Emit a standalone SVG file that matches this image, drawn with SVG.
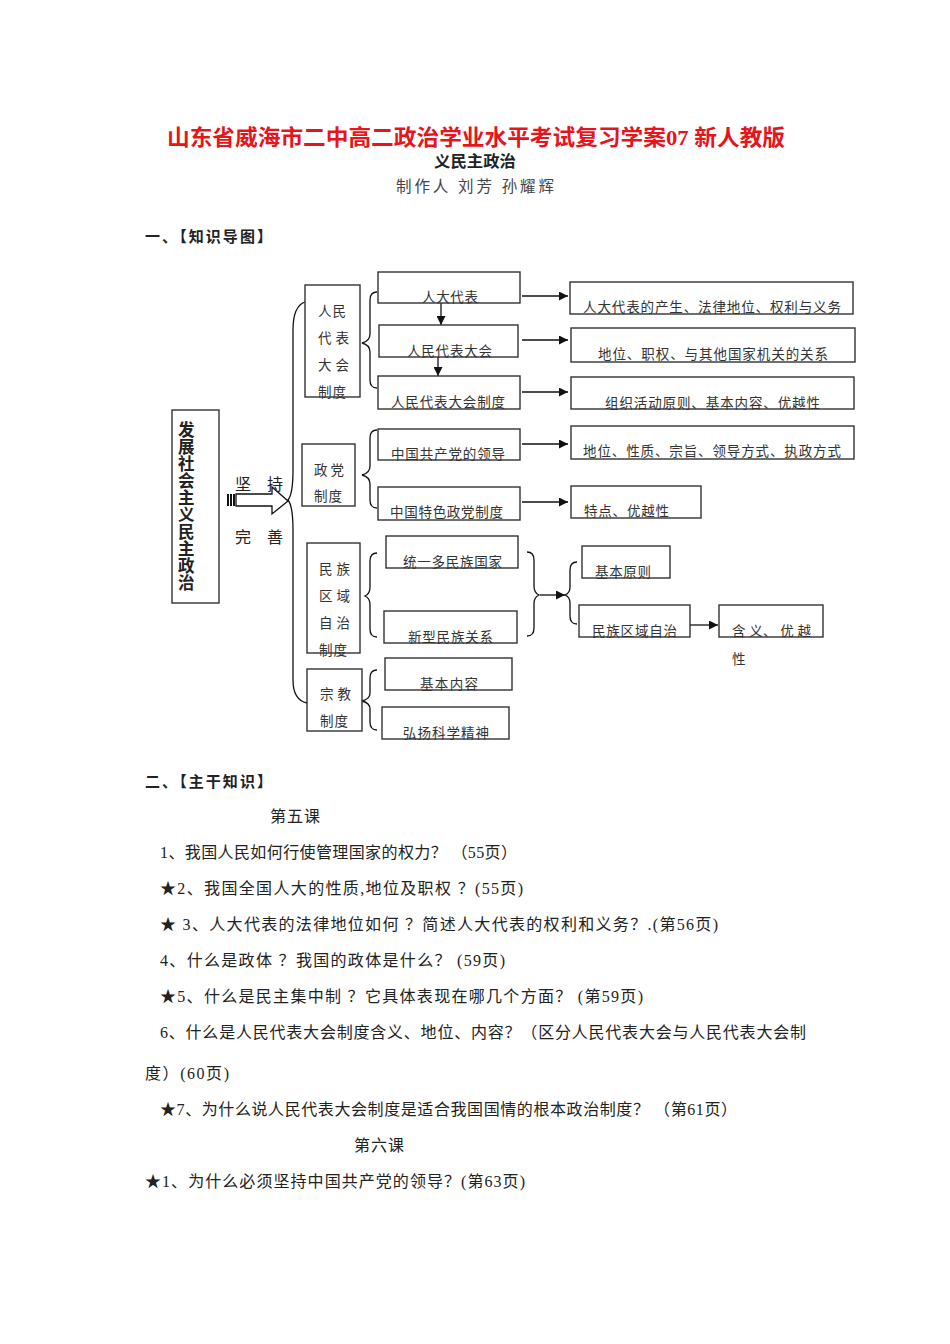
<svg xmlns="http://www.w3.org/2000/svg" width="950" height="1344" viewBox="0 0 950 1344">
<defs>
<style>
.t{font-family:"Liberation Serif","Noto Sans CJK SC",serif;fill:#222}
.b{font-weight:bold}
.box{fill:#fff;stroke:#333;stroke-width:1.4}
.lbl{font-size:13.5px;fill:#333}
.q{font-size:16px}
.con{fill:none;stroke:#111;stroke-width:1.3}
</style>
<marker id="ah" viewBox="0 0 10 10" refX="10" refY="5" markerWidth="9" markerHeight="9" markerUnits="userSpaceOnUse" orient="auto">
<path d="M0,0 L10,5 L0,10 z" fill="#111"/>
</marker>
</defs>
<rect width="950" height="1344" fill="#fff"/>

<g id="header">
<text class="t b" x="167" y="145" font-size="22" fill="#e8141b" style="fill:#e8141b" textLength="618" lengthAdjust="spacingAndGlyphs">山东省威海市二中高二政治学业水平考试复习学案07 新人教版</text>
<text class="t b" x="434" y="167" font-size="15.5" textLength="82" lengthAdjust="spacingAndGlyphs">义民主政治</text>
<text class="t" x="396" y="192" font-size="15.5" textLength="158" lengthAdjust="spacing" style="fill:#444">制作人  刘芳    孙耀辉</text>
<text class="t b" x="145" y="242" font-size="15" textLength="127" lengthAdjust="spacing">一、【知识导图】</text>
</g>

<g id="connectors">
<path class="con" d="M305,302 Q293,306 293,330 L293,470 Q293,494 288,500 Q293,506 293,530 L293,680 Q293,700 307,703"/>
<path class="con" d="M377,292 Q370,292 370,300 L370,334 Q370,341 362,343 Q370,345 370,352 L370,380 Q370,388 377,388"/>
<path class="con" d="M377,430 Q370,430 370,438 L370,466 Q370,473 362,475 Q370,477 370,484 L370,500 Q370,508 377,508"/>
<path class="con" d="M377,553 Q370,553 370,561 L370,587 Q370,594 365,596 Q370,598 370,605 L370,629 Q370,637 377,637"/>
<path class="con" d="M527,552 Q534,552 534,560 L534,586 Q534,593 539,595 Q534,597 534,604 L534,628 Q534,636 527,636"/>
<path class="con" d="M577,562 Q570,562 570,570 L570,587 Q570,593 565,595 Q570,597 570,603 L570,616 Q570,624 577,624"/>
<path class="con" d="M377,670 Q370,670 370,678 L370,693 Q370,699 362,701 Q370,703 370,709 L370,722 Q370,730 377,730"/>
<line class="con" x1="441" y1="303" x2="441" y2="325" marker-end="url(#ah)"/>
<line class="con" x1="438" y1="357" x2="438" y2="376" marker-end="url(#ah)"/>
<line class="con" x1="522" y1="296" x2="568" y2="296" marker-end="url(#ah)"/>
<line class="con" x1="522" y1="340" x2="568" y2="340" marker-end="url(#ah)"/>
<line class="con" x1="522" y1="392" x2="568" y2="392" marker-end="url(#ah)"/>
<line class="con" x1="522" y1="444" x2="568" y2="444" marker-end="url(#ah)"/>
<line class="con" x1="522" y1="502" x2="568" y2="502" marker-end="url(#ah)"/>
<line class="con" x1="540" y1="595" x2="565" y2="595" marker-end="url(#ah)"/>
<line class="con" x1="690" y1="625" x2="718" y2="625" marker-end="url(#ah)"/>
</g>

<g id="arrow-main">
<rect x="227" y="494" width="2" height="12" fill="#111"/>
<rect x="230" y="494" width="2" height="12" fill="#111"/>
<rect x="233" y="494" width="2" height="12" fill="#111"/>
<path d="M236,494 L272,494 L272,487 L288,501 L272,514 L272,506 L236,506 Z" fill="#fff" stroke="#111" stroke-width="1.3"/>
<text class="t q" x="235" y="490">坚</text>
<text class="t q" x="267" y="490">持</text>
<text class="t q" x="235" y="543">完</text>
<text class="t q" x="267" y="543">善</text>
</g>

<g id="root">
<rect class="box" x="172" y="410" width="47" height="193"/>
<text class="t b" font-size="16.5" x="178" y="436">发</text>
<text class="t b" font-size="16.5" x="178" y="453">展</text>
<text class="t b" font-size="16.5" x="178" y="470">社</text>
<text class="t b" font-size="16.5" x="178" y="487">会</text>
<text class="t b" font-size="16.5" x="178" y="504">主</text>
<text class="t b" font-size="16.5" x="178" y="521">义</text>
<text class="t b" font-size="16.5" x="178" y="538">民</text>
<text class="t b" font-size="16.5" x="178" y="555">主</text>
<text class="t b" font-size="16.5" x="178" y="572">政</text>
<text class="t b" font-size="16.5" x="178" y="589">治</text>
</g>

<g id="n-rd">
<rect class="box" x="305" y="285" width="55" height="112"/>
<text class="t lbl" x="318" y="316" textLength="28" lengthAdjust="spacing">人民</text>
<text class="t lbl" x="318" y="343" textLength="31" lengthAdjust="spacing">代表</text>
<text class="t lbl" x="318" y="370" textLength="31" lengthAdjust="spacing">大会</text>
<text class="t lbl" x="318" y="397" textLength="28" lengthAdjust="spacing">制度</text>
</g>
<g id="n-zd">
<rect class="box" x="302" y="444" width="53" height="62"/>
<text class="t lbl" x="314" y="475" textLength="30" lengthAdjust="spacing">政党</text>
<text class="t lbl" x="314" y="501" textLength="28" lengthAdjust="spacing">制度</text>
</g>
<g id="n-mz">
<rect class="box" x="307" y="543" width="53" height="110"/>
<text class="t lbl" x="319" y="574" textLength="31" lengthAdjust="spacing">民族</text>
<text class="t lbl" x="319" y="601" textLength="31" lengthAdjust="spacing">区域</text>
<text class="t lbl" x="319" y="628" textLength="31" lengthAdjust="spacing">自治</text>
<text class="t lbl" x="319" y="655" textLength="28" lengthAdjust="spacing">制度</text>
</g>
<g id="n-zj">
<rect class="box" x="307" y="669" width="55" height="62"/>
<text class="t lbl" x="320" y="699" textLength="31" lengthAdjust="spacing">宗教</text>
<text class="t lbl" x="320" y="726" textLength="28" lengthAdjust="spacing">制度</text>
</g>

<g id="n-rddb">
<rect class="box" x="378" y="272" width="142" height="31"/>
<text class="t lbl" x="422" y="302" textLength="56" lengthAdjust="spacing">人大代表</text>
</g>
<g id="n-rmdbdh">
<rect class="box" x="379" y="325" width="139" height="32"/>
<text class="t lbl" x="407" y="356" textLength="85" lengthAdjust="spacing">人民代表大会</text>
</g>
<g id="n-rmdbdhzd">
<rect class="box" x="378" y="376" width="142" height="33"/>
<text class="t lbl" x="391" y="407" textLength="114" lengthAdjust="spacing">人民代表大会制度</text>
</g>
<g id="n-gcd">
<rect class="box" x="378" y="429" width="142" height="31"/>
<text class="t lbl" x="391" y="459" textLength="114" lengthAdjust="spacing">中国共产党的领导</text>
</g>
<g id="n-tszd">
<rect class="box" x="378" y="487" width="142" height="33"/>
<text class="t lbl" x="390" y="517" textLength="113" lengthAdjust="spacing">中国特色政党制度</text>
</g>
<g id="n-tydmz">
<rect class="box" x="386" y="536" width="132" height="32"/>
<text class="t lbl" x="403" y="567" textLength="99" lengthAdjust="spacing">统一多民族国家</text>
</g>
<g id="n-xxmz">
<rect class="box" x="384" y="611" width="133" height="32"/>
<text class="t lbl" x="408" y="642" textLength="85" lengthAdjust="spacing">新型民族关系</text>
</g>
<g id="n-jbnr">
<rect class="box" x="385" y="658" width="127" height="32"/>
<text class="t lbl" x="420" y="689" textLength="58" lengthAdjust="spacing">基本内容</text>
</g>
<g id="n-hykx">
<rect class="box" x="382" y="707" width="127" height="32"/>
<text class="t lbl" x="403" y="738" textLength="86" lengthAdjust="spacing">弘扬科学精神</text>
</g>

<g id="n-r1">
<rect class="box" x="570" y="282" width="283" height="32"/>
<text class="t lbl" x="583" y="312" textLength="258" lengthAdjust="spacing">人大代表的产生、法律地位、权利与义务</text>
</g>
<g id="n-r2">
<rect class="box" x="571" y="328" width="284" height="34"/>
<text class="t lbl" x="598" y="359" textLength="230" lengthAdjust="spacing">地位、职权、与其他国家机关的关系</text>
</g>
<g id="n-r3">
<rect class="box" x="571" y="377" width="283" height="32"/>
<text class="t lbl" x="605" y="408" textLength="215" lengthAdjust="spacing">组织活动原则、基本内容、优越性</text>
</g>
<g id="n-r4">
<rect class="box" x="571" y="426" width="283" height="33"/>
<text class="t lbl" x="583" y="456" textLength="258" lengthAdjust="spacing">地位、性质、宗旨、领导方式、执政方式</text>
</g>
<g id="n-r5">
<rect class="box" x="571" y="486" width="130" height="32"/>
<text class="t lbl" x="584" y="516" textLength="85" lengthAdjust="spacing">特点、优越性</text>
</g>
<g id="n-jbyz">
<rect class="box" x="582" y="546" width="88" height="32"/>
<text class="t lbl" x="595" y="577" textLength="56" lengthAdjust="spacing">基本原则</text>
</g>
<g id="n-mzqyzz">
<rect class="box" x="579" y="605" width="111" height="32"/>
<text class="t lbl" x="592" y="636" textLength="85" lengthAdjust="spacing">民族区域自治</text>
</g>
<g id="n-hy">
<rect class="box" x="719" y="605" width="104" height="32"/>
<text class="t lbl" x="732" y="636" textLength="79" lengthAdjust="spacing">含 义、 优 越</text>
<text class="t lbl" x="732" y="664">性</text>
</g>

<g id="body">
<text class="t b" x="145" y="787" font-size="15" textLength="127" lengthAdjust="spacing">二、【主干知识】</text>
<text class="t q" x="270" y="822" textLength="50" lengthAdjust="spacing">第五课</text>
<text class="t q" x="160" y="858" textLength="357" lengthAdjust="spacing">1、我国人民如何行使管理国家的权力？ （55页）</text>
<text class="t q" x="160" y="894" textLength="363" lengthAdjust="spacing">★2、我国全国人大的性质,地位及职权 ？(55页)</text>
<text class="t q" x="160" y="930" textLength="558" lengthAdjust="spacing">★ 3、人大代表的法律地位如何 ？简述人大代表的权利和义务？.(第56页)</text>
<text class="t q" x="160" y="966" textLength="345" lengthAdjust="spacing">4、什么是政体 ？我国的政体是什么？ (59页)</text>
<text class="t q" x="160" y="1002" textLength="483" lengthAdjust="spacing">★5、什么是民主集中制 ？它具体表现在哪几个方面？ (第59页)</text>
<text class="t q" x="160" y="1038" textLength="646" lengthAdjust="spacing">6、什么是人民代表大会制度含义、地位、内容？（区分人民代表大会与人民代表大会制</text>
<text class="t q" x="145" y="1079" textLength="84" lengthAdjust="spacing">度）(60页)</text>
<text class="t q" x="160" y="1115" textLength="577" lengthAdjust="spacing">★7、为什么说人民代表大会制度是适合我国国情的根本政治制度？ （第61页）</text>
<text class="t q" x="354" y="1151" textLength="50" lengthAdjust="spacing">第六课</text>
<text class="t q" x="145" y="1187" textLength="380" lengthAdjust="spacing">★1、为什么必须坚持中国共产党的领导？(第63页)</text>
</g>
</svg>
